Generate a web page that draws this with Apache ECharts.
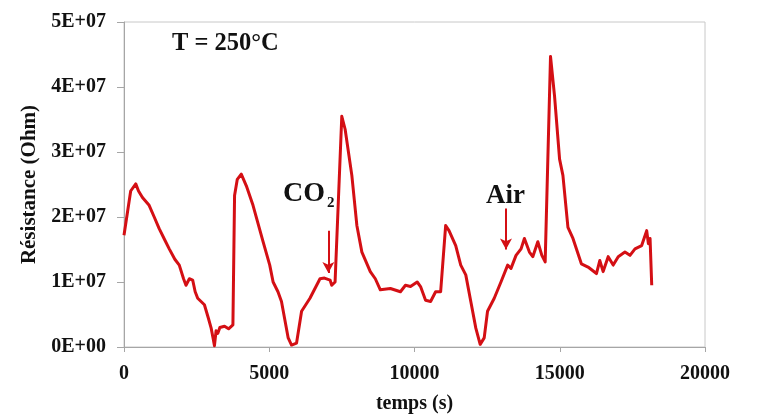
<!DOCTYPE html>
<html>
<head>
<meta charset="utf-8">
<script src="https://cdn.jsdelivr.net/npm/echarts@6/dist/echarts.min.js"></script>
<style>html,body{margin:0;padding:0;background:#fff}#c{width:761px;height:419px}</style>
</head>
<body>
<div id="c"></div>
<script>
const timeS = [0,230,405,500,635,865,1040,1211,1400,1557,1750,1903,2050,2134,2250,2364,2450,2537,2768,2900,3000,3060,3114,3170,3230,3300,3460,3600,3749,3806,3900,4037,4211,4441,4787,5017,5133,5300,5421,5652,5767,5940,6113,6401,6747,6900,7093,7151,7266,7497,7612,7843,8016,8189,8478,8651,8824,9170,9516,9689,9862,10093,10208,10381,10554,10727,10900,11073,11188,11419,11592,11765,11938,12111,12261,12399,12514,12745,12976,13207,13322,13495,13668,13783,13956,14072,14245,14384,14498,14682,14821,14994,15109,15282,15455,15744,15974,16263,16378,16494,16667,16840,17013,17244,17417,17590,17820,17993,18051,18109,18166];
const resistanceOhm = [17.2e6,24.0e6,25.1e6,24.0e6,23.0e6,21.8e6,20.0e6,18.2e6,16.5e6,15.1e6,13.5e6,12.6e6,10.5e6,9.5e6,10.5e6,10.3e6,8.5e6,7.5e6,6.5e6,4.5e6,2.9e6,1.5e6,0.2e6,2.5e6,2.1e6,3.0e6,3.2e6,2.8e6,3.4e6,23.3e6,25.8e6,26.6e6,24.8e6,21.8e6,16.2e6,12.6e6,10.0e6,8.5e6,7.0e6,1.4e6,0.3e6,0.6e6,5.5e6,7.5e6,10.5e6,10.6e6,10.3e6,9.5e6,10.0e6,35.5e6,33.5e6,26.4e6,18.7e6,14.6e6,11.6e6,10.5e6,8.8e6,9.0e6,8.5e6,9.5e6,9.3e6,10.0e6,9.3e6,7.2e6,7.0e6,8.5e6,8.5e6,18.7e6,17.9e6,15.6e6,12.6e6,11.1e6,7.0e6,2.9e6,0.4e6,1.4e6,5.5e6,7.5e6,10.0e6,12.6e6,12.1e6,14.1e6,15.1e6,16.7e6,14.6e6,13.9e6,16.2e6,14.1e6,13.1e6,44.7e6,38.6e6,28.9e6,26.4e6,18.4e6,16.7e6,12.8e6,12.3e6,11.3e6,13.3e6,11.6e6,13.9e6,12.6e6,13.9e6,14.6e6,14.1e6,15.1e6,15.6e6,17.9e6,15.9e6,16.7e6,9.5e6];
const co2Arrow = [[7035, 17.9e6], [7035, 11.4e6]];
const airArrow = [[13149, 21.3e6], [13149, 15.0e6]];
const xTicks = [0, 5000, 10000, 15000, 20000];
const yTickLabels = ['0E+00','1E+07','2E+07','3E+07','4E+07','5E+07'];

const serif = '"Liberation Serif", "DejaVu Serif", serif';
const red = '#d40f14';
const chart = echarts.init(document.getElementById('c'), null, {renderer: 'canvas'});
chart.setOption({
  backgroundColor: '#ffffff',
  animation: false,
  grid: {left: 124, right: 56, top: 22, bottom: 69, show: true, borderColor: '#c8c8c8', borderWidth: 1, backgroundColor: 'transparent'},
  xAxis: {
    type: 'value', min: xTicks[0], max: xTicks[xTicks.length-1], interval: 5000,
    name: 'temps (s)', nameLocation: 'middle', nameGap: 47,
    nameTextStyle: {fontFamily: serif, fontWeight: 'bold', fontSize: 20, color: '#111'},
    axisLine: {lineStyle: {color: '#a6a6a6', width: 1}},
    axisTick: {show: true, inside: false, length: 5, lineStyle: {color: '#a6a6a6'}},
    axisLabel: {margin: 17, fontFamily: serif, fontWeight: 'bold', fontSize: 20, color: '#111',
      formatter: function (v) { return String(v); }},
    splitLine: {show: false}
  },
  yAxis: {
    type: 'value', min: 0, max: 5e7, interval: 1e7,
    name: 'Résistance (Ohm)', nameLocation: 'middle', nameGap: 74, nameRotate: 90,
    nameTextStyle: {fontFamily: serif, fontWeight: 'bold', fontSize: 21, color: '#111'},
    axisLine: {show: true, lineStyle: {color: '#a6a6a6', width: 1}},
    axisTick: {show: true, inside: false, length: 7, lineStyle: {color: '#a6a6a6'}},
    axisLabel: {margin: 18, fontFamily: serif, fontWeight: 'bold', fontSize: 20, color: '#111',
      formatter: function (v) { return yTickLabels[Math.round(v / 1e7)]; }},
    splitLine: {show: false}
  },
  series: [{
    type: 'line',
    data: timeS.map((t, i) => [t, resistanceOhm[i]]),
    showSymbol: false,
    smooth: false,
    lineStyle: {color: red, width: 3, join: 'round'},
    markLine: {
      silent: true,
      symbol: ['none', 'arrow'],
      symbolSize: [9, 11],
      label: {show: false},
      lineStyle: {color: red, width: 2, type: 'solid'},
      data: [
        [{coord: co2Arrow[0]}, {coord: co2Arrow[1]}],
        [{coord: airArrow[0]}, {coord: airArrow[1]}]
      ]
    }
  }],
  graphic: [
    {type: 'text', left: 172, top: 31, style: {text: 'T = 250°C', font: 'bold 24.5px ' + serif, fill: '#111'}},
    {type: 'text', left: 283, top: 180, style: {text: 'CO', font: 'bold 28px ' + serif, fill: '#111'}},
    {type: 'text', left: 327, top: 196, style: {text: '2', font: 'bold 15px ' + serif, fill: '#111'}},
    {type: 'text', left: 486, top: 183, style: {text: 'Air', font: 'bold 27px ' + serif, fill: '#111'}}
  ]
});
</script>
</body>
</html>
